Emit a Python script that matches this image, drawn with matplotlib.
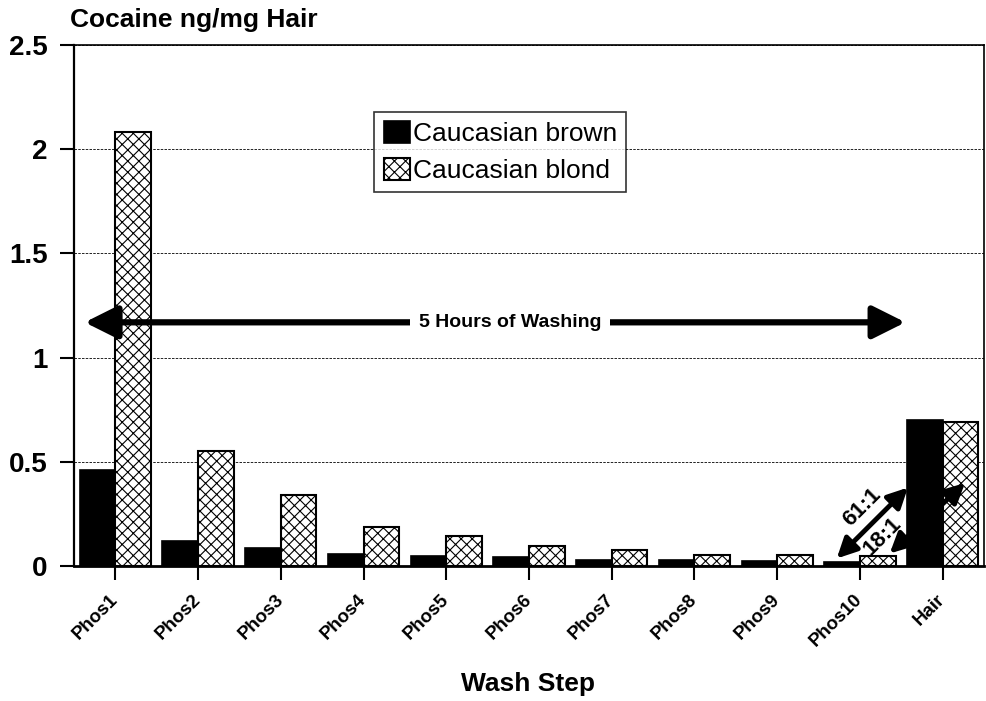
import matplotlib.pyplot as plt
import numpy as np

plt.rcParams['font.family'] = ['Liberation Sans', 'DejaVu Sans']
plt.rcParams['hatch.linewidth'] = 0.8

steps = ['Phos1', 'Phos2', 'Phos3', 'Phos4', 'Phos5', 'Phos6',
         'Phos7', 'Phos8', 'Phos9', 'Phos10', 'Hair']
brown = [0.46, 0.12, 0.086, 0.059, 0.049, 0.043, 0.030, 0.029, 0.027, 0.022, 0.70]
blond = [2.08, 0.555, 0.34, 0.19, 0.145, 0.099, 0.078, 0.055, 0.054, 0.051, 0.69]
yticks = [0, 0.5, 1, 1.5, 2, 2.5]
yticklabels = ['0', '0.5', '1', '1.5', '2', '2.5']

fig = plt.figure(figsize=(9.86, 7.01), dpi=100)
ax = fig.add_axes([0.075, 0.192, 0.923, 0.744])

x = np.arange(len(steps))
w = 0.43
ax.bar(x - w/2, brown, w, color='black', edgecolor='black', linewidth=1.2,
       label='Caucasian brown', zorder=3)
ax.bar(x + w/2, blond, w, color='white', edgecolor='black', linewidth=1.5,
       hatch='xxx', label='Caucasian blond', zorder=3)

ax.set_xlim(-0.5, 10.5)
ax.set_ylim(0, 2.5)
ax.set_yticks(yticks)
ax.set_yticklabels(yticklabels, fontsize=20, fontweight='bold')
ax.set_xticks(x)
ax.set_xticklabels(steps, fontsize=13.5, fontweight='bold', rotation=45,
                   ha='right', va='center', rotation_mode='anchor')
ax.tick_params(axis='y', direction='out', length=10, width=1.5, pad=9)
ax.tick_params(axis='x', direction='out', length=10, width=1.5, pad=12)

ax.yaxis.grid(True, linestyle=(0, (3, 1.5)), color='black', linewidth=0.6)
ax.set_axisbelow(True)
for s in ['top', 'right']:
    ax.spines[s].set_linewidth(1.2)
ax.spines['left'].set_linewidth(1.6)
ax.spines['bottom'].set_linewidth(2)

leg = ax.legend(loc='upper left', bbox_to_anchor=(0.33, 0.872), fontsize=19,
                frameon=True, fancybox=False, edgecolor='black', borderaxespad=0,
                handlelength=1.0, handleheight=0.9, handletextpad=0.1,
                borderpad=0.35, labelspacing=0.45)
leg.get_frame().set_linewidth(1.2)

# 5 hours arrow
ax.annotate('', xy=(-0.37, 1.17), xytext=(9.55, 1.17),
            arrowprops=dict(arrowstyle='<|-|>,head_length=1.0,head_width=0.5',
                            color='black', lw=4.5, mutation_scale=20,
                            shrinkA=0, shrinkB=0), zorder=4)
ax.text(4.77, 1.17, '5 Hours of Washing', fontsize=14, fontweight='bold',
        ha='center', va='center', zorder=5,
        bbox=dict(facecolor='white', edgecolor='none', pad=6))

# ratio arrows
ax.annotate('', xy=(8.72, 0.038), xytext=(9.58, 0.378),
            arrowprops=dict(arrowstyle='<|-|>,head_length=0.6,head_width=0.3',
                            color='black', lw=3.5, mutation_scale=20,
                            shrinkA=0, shrinkB=0), zorder=4)
ax.annotate('', xy=(9.36, 0.062), xytext=(10.27, 0.40),
            arrowprops=dict(arrowstyle='<|-|>,head_length=0.6,head_width=0.3',
                            color='black', lw=3.5, mutation_scale=20,
                            shrinkA=0, shrinkB=0), zorder=4)
ax.text(9.02, 0.285, '61:1', fontsize=16, fontweight='bold', rotation=45,
        ha='center', va='center', rotation_mode='anchor', zorder=5)
ax.text(9.27, 0.145, '18:1', fontsize=16, fontweight='bold', rotation=45,
        ha='center', va='center', rotation_mode='anchor', zorder=5)

fig.text(70/986, 1 - 20/701, 'Cocaine ng/mg Hair', fontsize=19,
         fontweight='bold', ha='left', va='center')
fig.text(528/986, 1 - 684/701, 'Wash Step', fontsize=19, fontweight='bold',
         ha='center', va='center')

fig.savefig('out.png', dpi=100)
